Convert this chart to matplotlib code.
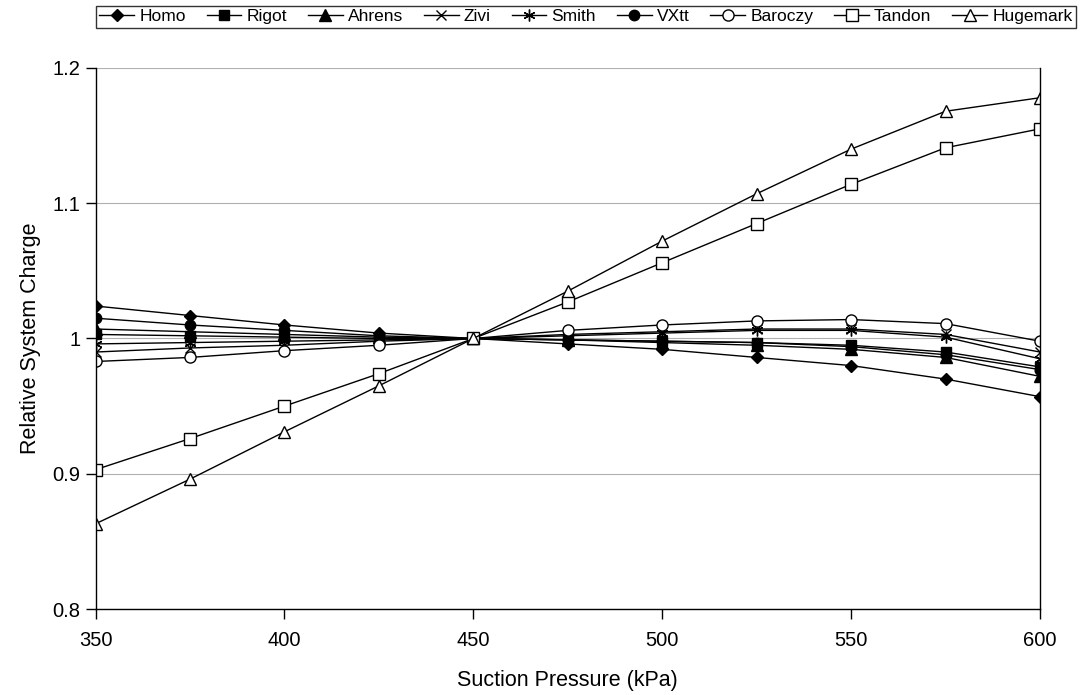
import matplotlib
matplotlib.use("Agg")
import matplotlib.pyplot as plt

plt.rcParams['font.family'] = ['Liberation Sans', 'DejaVu Sans']

pressure = [350, 375, 400, 425, 450, 475, 500, 525, 550, 575, 600]

homo     = [1.024, 1.017, 1.010, 1.004, 1.0, 0.996, 0.992, 0.986, 0.980, 0.970, 0.957]
rigot    = [1.003, 1.002, 1.001, 1.000, 1.0, 0.999, 0.998, 0.997, 0.995, 0.990, 0.979]
ahrens   = [1.007, 1.005, 1.003, 1.001, 1.0, 0.999, 0.997, 0.995, 0.992, 0.986, 0.972]
zivi     = [0.990, 0.993, 0.995, 0.998, 1.0, 1.003, 1.005, 1.007, 1.007, 1.003, 0.990]
smith    = [0.996, 0.997, 0.998, 0.999, 1.0, 1.002, 1.004, 1.006, 1.006, 1.001, 0.985]
vxtt     = [1.015, 1.010, 1.006, 1.002, 1.0, 0.999, 0.998, 0.997, 0.994, 0.988, 0.977]
baroczy  = [0.983, 0.986, 0.991, 0.995, 1.0, 1.006, 1.010, 1.013, 1.014, 1.011, 0.998]
tandon   = [0.903, 0.926, 0.950, 0.974, 1.0, 1.027, 1.056, 1.085, 1.114, 1.141, 1.155]
hugemark = [0.863, 0.896, 0.931, 0.965, 1.0, 1.035, 1.072, 1.107, 1.140, 1.168, 1.178]

series_names = ["Homo", "Rigot", "Ahrens", "Zivi", "Smith", "VXtt", "Baroczy", "Tandon", "Hugemark"]
series_vals = [homo, rigot, ahrens, zivi, smith, vxtt, baroczy, tandon, hugemark]
styles = [
    dict(marker='D', mfc='black', ms=6.5),
    dict(marker='s', mfc='black', ms=7.5),
    dict(marker='^', mfc='black', ms=8),
    dict(marker='x', mfc='none', ms=7.5, mew=1.0),
    dict(marker=(6, 2, 0), mfc='none', ms=8.5, mew=1.0),
    dict(marker='o', mfc='black', ms=7.5),
    dict(marker='o', mfc='white', ms=8),
    dict(marker='s', mfc='white', ms=8.5),
    dict(marker='^', mfc='white', ms=9),
]

fig = plt.figure(figsize=(10.89, 6.95), dpi=100)
ax = fig.add_axes([0.0877, 0.1237, 0.955 - 0.0877, 0.9022 - 0.1237])

for name, vals, st in zip(series_names, series_vals, styles):
    ax.plot(pressure, vals, color='black', lw=1.0, label=name, mec='black', **st)

ax.set_xlim(350, 600)
ax.set_ylim(0.8, 1.2)
ax.set_xticks([350, 400, 450, 500, 550, 600])
ax.set_yticks([0.8, 0.9, 1.0, 1.1, 1.2])
ax.set_yticklabels(["0.8", "0.9", "1", "1.1", "1.2"])
ax.yaxis.grid(True, color='#b0b0b0', lw=0.8)
ax.set_axisbelow(True)
ax.tick_params(axis='both', direction='out', length=7, labelsize=14.5, color='black', width=1)
ax.tick_params(axis='x', pad=9)
ax.tick_params(axis='y', pad=4)
ax.spines['top'].set_visible(False)
for s in ['left', 'right', 'bottom']:
    ax.spines[s].set_color('black')
    ax.spines[s].set_linewidth(1.0)

ax.set_xlabel("Suction Pressure (kPa)", fontsize=15.5, labelpad=14)
ax.set_ylabel("Relative System Charge", fontsize=15.5, labelpad=8)

leg = fig.legend(loc='center', bbox_to_anchor=(0.538, 0.976), ncol=9, frameon=True,
                 fontsize=12.5, handlelength=2.0, handletextpad=0.3, columnspacing=1.2,
                 borderpad=0.2, borderaxespad=0.0, fancybox=False, edgecolor='black')
leg.get_frame().set_linewidth(1.0)

fig.savefig("out.png", dpi=100)
